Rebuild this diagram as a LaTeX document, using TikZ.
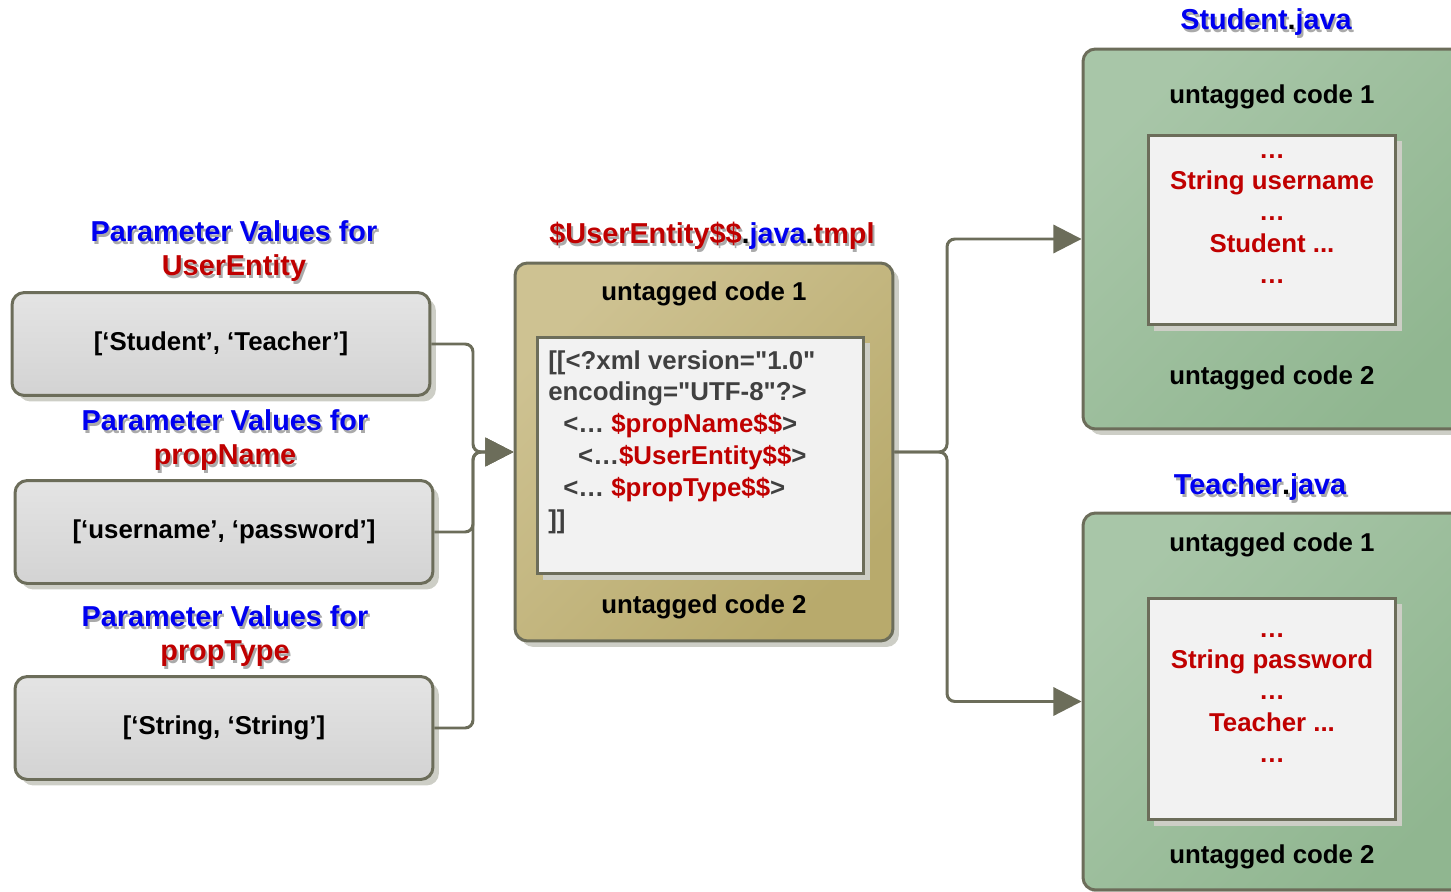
\documentclass[tikz,border=0pt]{standalone}
\usepackage{fontspec}
\setmainfont{Liberation Sans}
% same face without the TeX quote mapping, for the xml lines
\newfontfamily\plainsans{Liberation Sans}
\usetikzlibrary{arrows.meta, positioning, shadows, calc}

\definecolor{framegray}{RGB}{108,109,90}
\definecolor{boxgrayA}{RGB}{228,228,228}
\definecolor{boxgrayB}{RGB}{211,211,211}
\definecolor{tanA}{RGB}{206,194,146}
\definecolor{tanB}{RGB}{184,170,108}
\definecolor{greenA}{RGB}{168,198,168}
\definecolor{greenB}{RGB}{144,182,144}
\definecolor{codefill}{RGB}{242,242,242}
\definecolor{codegray}{RGB}{64,64,64}
\definecolor{dropgray}{RGB}{205,206,198}
\definecolor{tblue}{RGB}{0,0,240}
\definecolor{tred}{RGB}{192,0,0}
\definecolor{tdot}{RGB}{0,0,0}
\definecolor{tshade}{RGB}{170,170,170}

\begin{document}
\begin{tikzpicture}[x=0.02cm, y=-0.02cm,
    txt/.style={font=\fontsize{14.7}{17.9}\selectfont\bfseries, inner sep=0pt},
    heading/.style={font=\fontsize{16.4}{19.8}\selectfont\bfseries, text=tblue, align=center, inner sep=0pt},
    headshade/.style={heading, text=tshade,
      execute at begin node={\colorlet{tblue}{tshade}\colorlet{tred}{tshade}\colorlet{tdot}{tshade}}},
    boxshadow/.style={drop shadow={shadow xshift=3.4pt, shadow yshift=-3.4pt, fill=dropgray, opacity=1}},
    valbox/.style={txt, draw=framegray, line width=1.7pt, rounded corners=7pt, boxshadow,
      top color=boxgrayA, bottom color=boxgrayB, minimum width=8.36cm, minimum height=2.06cm},
    tmplbox/.style={draw=framegray, line width=1.7pt, rounded corners=7pt, boxshadow,
      top color=tanA, bottom color=tanB, shading angle=45},
    javabox/.style={draw=framegray, line width=1.7pt, rounded corners=7pt, boxshadow,
      top color=greenA, bottom color=greenB, shading angle=45},
    codebox/.style={draw=framegray, line width=1.7pt, fill=codefill, boxshadow},
    conn/.style={draw=framegray, line width=1.7pt, rounded corners=4.5pt},
    arr/.style={conn, -{Triangle[length=16pt, width=16pt]}}]

  \useasboundingbox (0,0) rectangle (1451,892);
  \clip (0,0) rectangle (1451,892);

  % parameter value lists
  \node[headshade] (hUEs) at (236,254) {Parameter Values for\\\textcolor{tred}{UserEntity}};
  \node[heading] (hUE) at (234,251) {Parameter Values for\\\textcolor{tred}{UserEntity}};
  \node[valbox] (vUE) at (221,344) {[‘Student’, ‘Teacher’]};

  \node[headshade] (hPNs) at (227,443) {Parameter Values for\\\textcolor{tred}{propName}};
  \node[heading] (hPN) at (225,440) {Parameter Values for\\\textcolor{tred}{propName}};
  \node[valbox] (vPN) at (224,532) {[‘username’, ‘password’]};

  \node[headshade] (hPTs) at (227,639) {Parameter Values for\\\textcolor{tred}{propType}};
  \node[heading] (hPT) at (225,636) {Parameter Values for\\\textcolor{tred}{propType}};
  \node[valbox] (vPT) at (224,728) {[‘String, ‘String’]};

  % template
  \node[headshade] (hTms) at (714,239) {\textcolor{tred}{\$UserEntity\$\$}\textcolor{tdot}{.}java\textcolor{tdot}{.}\textcolor{tred}{tmpl}};
  \node[heading] (hTm) at (712,236) {\textcolor{tred}{\$UserEntity\$\$}\textcolor{tdot}{.}java\textcolor{tdot}{.}\textcolor{tred}{tmpl}};
  \node[tmplbox, minimum width=7.56cm, minimum height=7.56cm] (tmpl) at (704,452) {};
  \node[txt] (tmTop) at (704,294) {untagged code 1};
  \node[codebox, minimum width=6.54cm, minimum height=4.74cm] (tmCode) at (700.5,455.5) {};
  \node[txt, font=\fontsize{14.7}{18.1}\selectfont\plainsans\bfseries, text=codegray, align=left, anchor=north west] (tmLines) at (548,350) {[[<?xml version="1.0"\\
    encoding="UTF-8"?>\\
    \hspace*{8.5pt}<… \textcolor{tred}{\$propName\$\$}>\\
    \hspace*{17pt}<…\textcolor{tred}{\$UserEntity\$\$}>\\
    \hspace*{8.5pt}<… \textcolor{tred}{\$propType\$\$}>\\
    ]]};
  \node[txt] (tmBot) at (704,607) {untagged code 2};

  % generated java files
  \node[headshade] (hStus) at (1268,25) {Student\textcolor{tdot}{.}java};
  \node[heading] (hStu) at (1266,22) {Student\textcolor{tdot}{.}java};
  \node[javabox, minimum width=7.94cm, minimum height=7.6cm] (stu) at (1281.5,239) {};
  \node[txt] (stuTop) at (1272,97) {untagged code 1};
  \node[codebox, minimum width=4.96cm, minimum height=3.8cm] (stuCode) at (1272,230) {};
  \node[txt, text=tred, align=center] (stuLines) at (1272,219) {…\\String username\\…\\Student ...\\…};
  \node[txt] (stuBot) at (1272,378) {untagged code 2};

  \node[headshade] (hTeas) at (1262,490) {Teacher\textcolor{tdot}{.}java};
  \node[heading] (hTea) at (1260,487) {Teacher\textcolor{tdot}{.}java};
  \node[javabox, minimum width=7.94cm, minimum height=7.54cm] (tea) at (1281.5,701.5) {};
  \node[txt] (teaTop) at (1272,545) {untagged code 1};
  \node[codebox, minimum width=4.96cm, minimum height=4.44cm] (teaCode) at (1272,709) {};
  \node[txt, text=tred, align=center] (teaLines) at (1272,698) {…\\String password\\…\\Teacher ...\\…};
  \node[txt] (teaBot) at (1272,857) {untagged code 2};

  % connectors
  \coordinate (lJoin) at (473,452);
  \coordinate (rJoin) at (947,452);
  \draw[arr] (vUE.east) -| (lJoin) -- (tmpl.west);
  \draw[arr] (vPN.east) -| (lJoin) -- (tmpl.west);
  \draw[arr] (vPT.east) -| (lJoin) -- (tmpl.west);
  \draw[arr] (tmpl.east) -- (rJoin) |- (stu.west);
  \draw[arr] (tmpl.east) -- (rJoin) |- (tea.west);
\end{tikzpicture}
\end{document}
